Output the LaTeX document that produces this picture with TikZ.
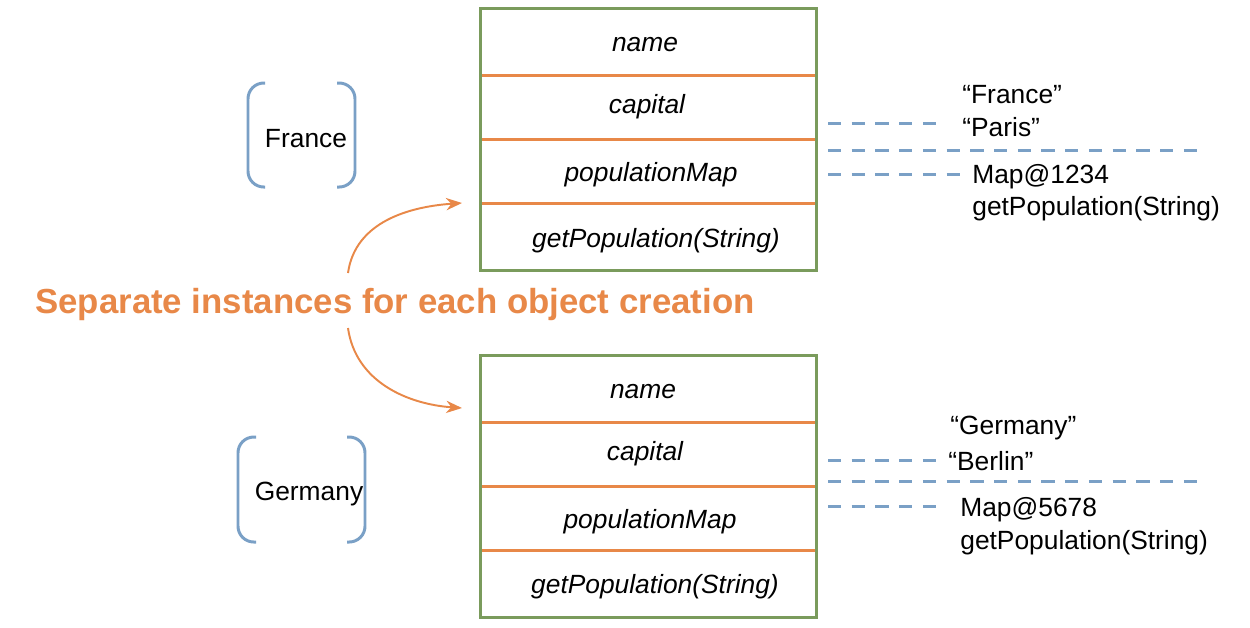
\documentclass[tikz,border=0pt]{standalone}
\usepackage{fontspec}
\setmainfont{Liberation Sans}
\usetikzlibrary{arrows.meta}
\definecolor{boxgreen}{RGB}{122,155,92}
\definecolor{roworange}{RGB}{232,136,72}
\definecolor{linkblue}{RGB}{122,160,198}

\begin{document}
\begin{tikzpicture}[x=0.02cm,y=-0.02cm,
  field/.style={font=\fontsize{15}{18}\selectfont\itshape},
  value/.style={anchor=west,inner sep=0pt,font=\fontsize{15}{18}\selectfont},
  objname/.style={font=\fontsize{15}{18}\selectfont},
  link/.style={linkblue,line width=1.7pt,dash pattern=on 7.5pt off 6pt},
  paren/.style={linkblue,line width=1.7pt,rounded corners=9pt},
  creates/.style={roworange,line width=1.1pt,-{Stealth[length=9pt,width=7pt]}}]
  \useasboundingbox (0,0) rectangle (1250,627);

  % France object
  \foreach \y in {75,139,203} \draw[roworange,line width=1.7pt] (480,\y) -- (816,\y);
  \draw[boxgreen,line width=1.7pt] (480,8) rectangle (816,270);
  \node[field] (name1) at (645,45) {name};
  \node[field] (capital1) at (647,107) {capital};
  \node[field] (map1) at (651,175) {populationMap};
  \node[field] (get1) at (656,241) {getPopulation(String)};

  \node[objname] (france) at (306,139) {France};
  \draw[paren] (265,83) -- (248,83) -- (248,187) -- (265,187);
  \draw[paren] (337,83) -- (355,83) -- (355,187) -- (337,187);

  \node[value] (fstr) at (962,95) {“France”};
  \node[value] (paris) at (962,127) {“Paris”};
  \node[value] (fmap) at (972,177) {Map@1234};
  \node[value] (fget) at (972,209) {getPopulation(String)};
  \coordinate (f1a) at (828,123); \coordinate (f1b) at (940,123);
  \coordinate (f2a) at (828,150); \coordinate (f2b) at (1198,150);
  \coordinate (f3a) at (828,174); \coordinate (f3b) at (960,174);
  \draw[link] (f1a) -- (f1b);
  \draw[link] (f2a) -- (f2b);
  \draw[link] (f3a) -- (f3b);

  % Germany object
  \foreach \y in {422,486,550} \draw[roworange,line width=1.7pt] (480,\y) -- (816,\y);
  \draw[boxgreen,line width=1.7pt] (480,355) rectangle (816,617);
  \node[field] (name2) at (643,392) {name};
  \node[field] (capital2) at (645,454) {capital};
  \node[field] (map2) at (650,522) {populationMap};
  \node[field] (get2) at (655,587) {getPopulation(String)};

  \node[objname] (germany) at (309,494) {Germany};
  \draw[paren] (256,437) -- (238,437) -- (238,542) -- (256,542);
  \draw[paren] (347,437) -- (365,437) -- (365,542) -- (347,542);

  \node[value] (gstr) at (950,428) {“Germany”};
  \node[value] (berlin) at (948,461) {“Berlin”};
  \node[value] (gmap) at (960,510) {Map@5678};
  \node[value] (gget) at (960,543) {getPopulation(String)};
  \coordinate (g1a) at (828,460); \coordinate (g1b) at (937,460);
  \coordinate (g2a) at (828,481); \coordinate (g2b) at (1198,481);
  \coordinate (g3a) at (828,506); \coordinate (g3b) at (938,506);
  \draw[link] (g1a) -- (g1b);
  \draw[link] (g2a) -- (g2b);
  \draw[link] (g3a) -- (g3b);

  % note and arrows
  \node[font=\fontsize{19.8}{24}\selectfont\bfseries,text=roworange] (note) at (395,304)
    {Separate instances for each object creation};
  \coordinate (up0) at (348,273); \coordinate (up1) at (462,203);
  \coordinate (dn0) at (348,328); \coordinate (dn1) at (462,408);
  \draw[creates] (up0) to[out=82,in=184] (up1);
  \draw[creates] (dn0) to[out=-82,in=176] (dn1);
\end{tikzpicture}
\end{document}
